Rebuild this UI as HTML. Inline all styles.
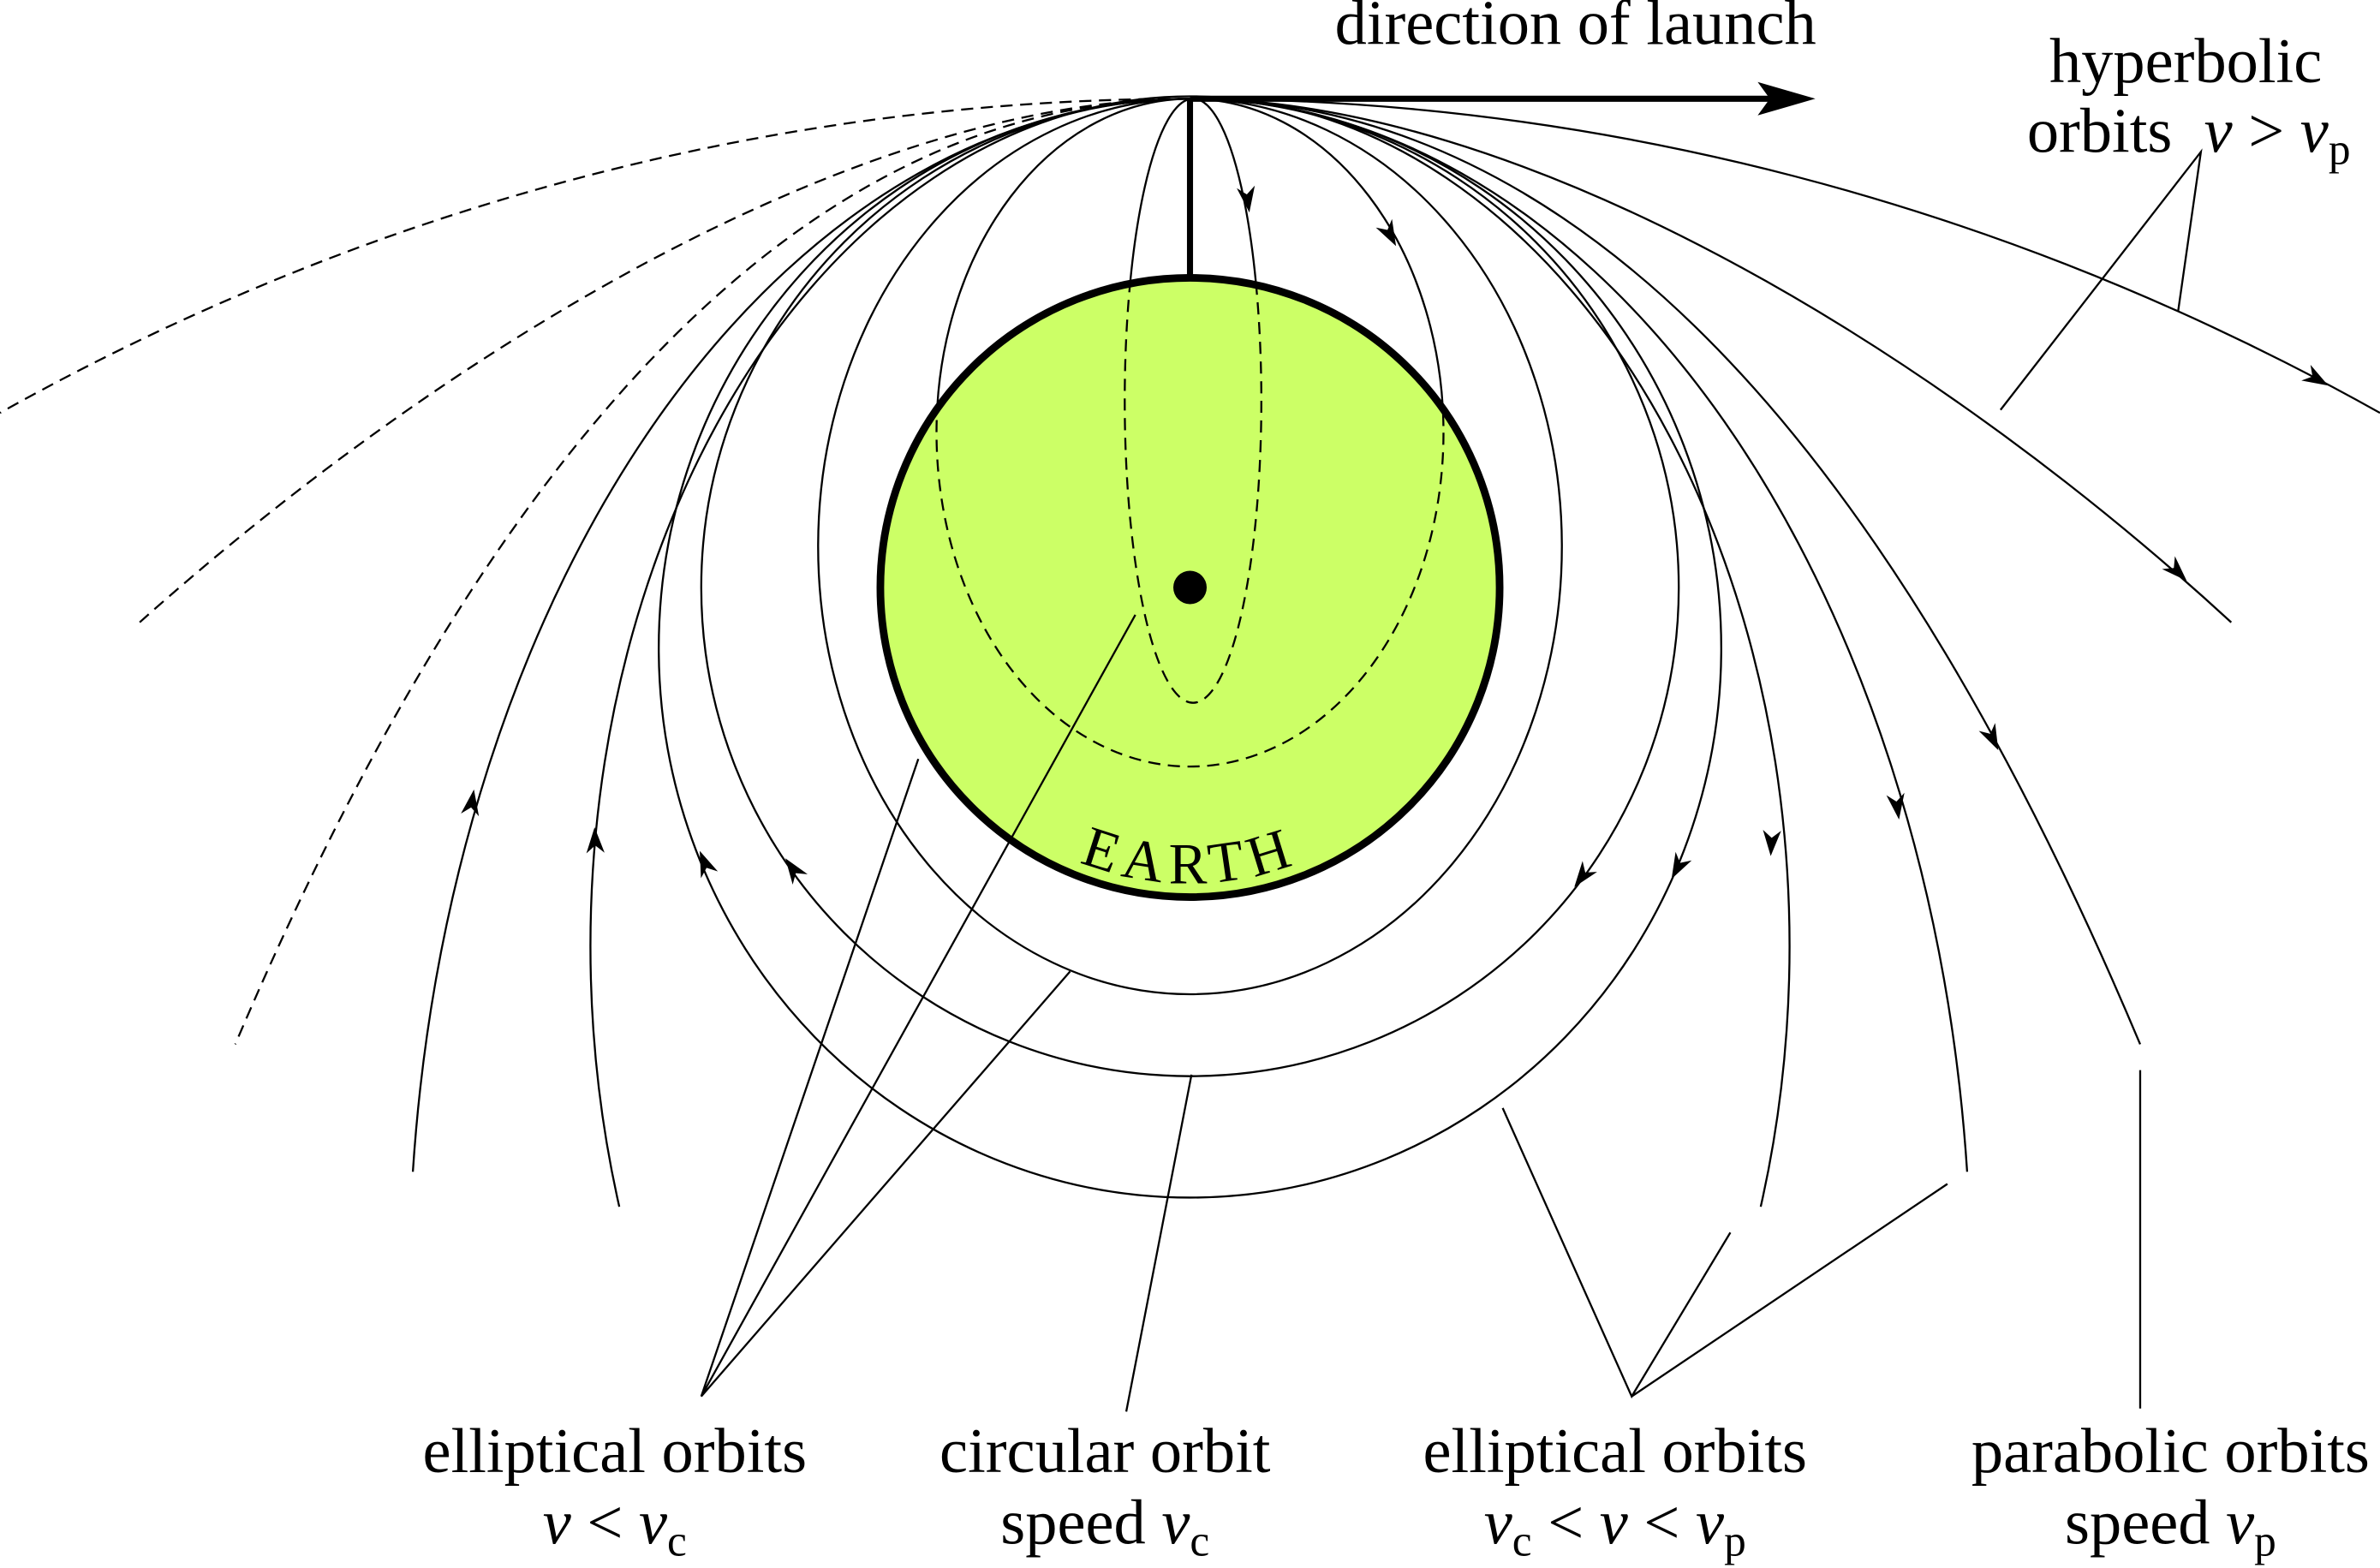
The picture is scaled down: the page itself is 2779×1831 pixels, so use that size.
<!DOCTYPE html>
<html><head><meta charset="utf-8"><style>
html,body{margin:0;padding:0;background:#fff;}
svg{display:block;}
text{font-family:"Liberation Serif",serif;fill:#000;}
</style></head><body>
<svg width="2779" height="1831" viewBox="0 0 1568 1033" xmlns="http://www.w3.org/2000/svg">
<defs>
<clipPath id="earthclip"><circle cx="784" cy="387" r="203"/></clipPath>
<path id="arc" d="M 620.5 493.2 A 195 195 0 0 0 947.5 493.2"/>
<g id="ah"><path d="M8,0 L-9,-6 L-4,0 L-9,6 Z" fill="#000"/></g>
</defs>
<g fill="none" stroke="#000" stroke-width="1.3">
<ellipse cx="786" cy="264" rx="45" ry="199"/>
<ellipse cx="784" cy="285" rx="167" ry="220"/>
<ellipse cx="784" cy="360" rx="245" ry="295"/>
<circle cx="784" cy="387" r="322"/>
<ellipse cx="784" cy="427" rx="350" ry="362"/>
<path d="M 408 795 A 395 560 0 1 1 1160 795"/>
<path d="M 272 772 A 515 785 0 0 1 784 65 A 515 785 0 0 1 1296 772"/>
<path d="M 784 65 Q 1148 65 1410 688"/>
<path d="M 784 65 Q 420 65 155 688" stroke-dasharray="8,5"/>
<path d="M 784 65 C 1000 65 1270 226 1470 410"/>
<path d="M 784 65 C 568 65 298 226 92 410" stroke-dasharray="8,5"/>
<path d="M 784 65 C 1050 65 1318 132 1568 272"/>
<path d="M 784 65 C 518 65 250 132 0 272" stroke-dasharray="8,5"/>
</g>
<circle cx="784" cy="387" r="204" fill="#ccff66"/>
<g clip-path="url(#earthclip)" fill="none" stroke="#000" stroke-width="1.3" stroke-dasharray="8,5">
<ellipse cx="786" cy="264" rx="45" ry="199"/>
<ellipse cx="784" cy="285" rx="167" ry="220"/>
</g>
<circle cx="784" cy="387" r="204" fill="none" stroke="#000" stroke-width="5"/>
<circle cx="784" cy="387" r="11" fill="#000"/>
<text font-size="38" letter-spacing="5"><textPath href="#arc" startOffset="50%" text-anchor="middle">EARTH</textPath></text>
<line x1="784" y1="65" x2="784" y2="185" stroke="#000" stroke-width="4"/>
<line x1="784" y1="65" x2="1170" y2="65" stroke="#000" stroke-width="4"/>
<path d="M1196,65 L1158,54 L1166,65 L1158,76 Z" fill="#000"/>
<use href="#ah" transform="translate(822,132) rotate(82)"/>
<use href="#ah" transform="translate(916,155) rotate(62)"/>
<use href="#ah" transform="translate(1042,578) rotate(127)"/>
<use href="#ah" transform="translate(522,572) rotate(235)"/>
<use href="#ah" transform="translate(1105,572) rotate(118)"/>
<use href="#ah" transform="translate(464,568) rotate(248)"/>
<use href="#ah" transform="translate(1167,556) rotate(93)"/>
<use href="#ah" transform="translate(392,553) rotate(-92)"/>
<use href="#ah" transform="translate(1250,532) rotate(82)"/>
<use href="#ah" transform="translate(311,528) rotate(-81)"/>
<use href="#ah" transform="translate(1313,487) rotate(64)"/>
<use href="#ah" transform="translate(1435,377) rotate(45)"/>
<use href="#ah" transform="translate(1527,250) rotate(30)"/>
<g stroke="#000" stroke-width="1.3" fill="none">
<path d="M605,500 L462,920 L748,405 M462,920 L705,640"/>
<path d="M742,930 L785,708"/>
<path d="M990,730 L1075,920 L1140,812 M1075,920 L1283,780"/>
<path d="M1410,705 L1410,928"/>
<path d="M1435,205 L1450,100 L1318,270"/>
</g>
<g font-size="42" text-anchor="middle">
<text x="1038" y="29">direction of launch</text>
<text x="1440" y="54">hyperbolic</text>
<text x="1442" y="100">orbits&#160; <tspan font-style="italic">v</tspan> &gt; <tspan font-style="italic">v</tspan><tspan font-size="29" dy="8">p</tspan></text>
<text x="405" y="970">elliptical orbits</text>
<text x="405" y="1017"><tspan font-style="italic">v</tspan> &lt; <tspan font-style="italic">v</tspan><tspan font-size="29" dy="8">c</tspan></text>
<text x="728" y="970">circular orbit</text>
<text x="728" y="1017">speed <tspan font-style="italic">v</tspan><tspan font-size="29" dy="8">c</tspan></text>
<text x="1064" y="970">elliptical orbits</text>
<text x="1064" y="1017"><tspan font-style="italic">v</tspan><tspan font-size="29" dy="8">c</tspan><tspan dy="-8"> &lt; </tspan><tspan font-style="italic">v</tspan> &lt; <tspan font-style="italic">v</tspan><tspan font-size="29" dy="8">p</tspan></text>
<text x="1430" y="970">parabolic orbits</text>
<text x="1430" y="1017">speed <tspan font-style="italic">v</tspan><tspan font-size="29" dy="8">p</tspan></text>
</g>
</svg>
</body></html>
